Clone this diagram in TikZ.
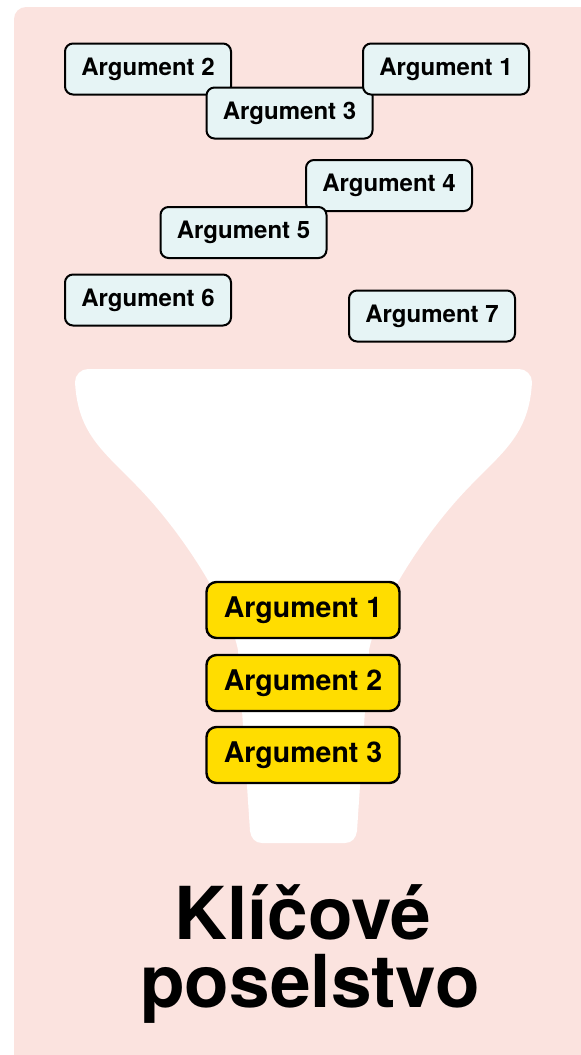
\documentclass[tikz,border=0pt]{standalone}
\usepackage{fontspec}
\setmainfont{TeX Gyre Heros}
\usetikzlibrary{positioning}
\definecolor{bgpink}{HTML}{FBE3DF}
\definecolor{argblue}{HTML}{E6F4F5}
\definecolor{keyyellow}{HTML}{FFDD00}
\begin{document}
\begin{tikzpicture}[x=1pt,y=-1pt,
  argbox/.style={draw,fill=argblue,line width=2pt,rounded corners=8pt,
    minimum width=166pt,minimum height=51pt,inner sep=0pt,
    font=\bfseries\fontsize{24}{26}\selectfont},
  keybox/.style={draw,fill=keyyellow,line width=2.4pt,rounded corners=10pt,
    minimum width=193pt,minimum height=56pt,inner sep=0pt,
    font=\bfseries\fontsize{28.5}{32}\selectfont},
  heading/.style={inner sep=0pt,anchor=base,
    font=\bfseries\fontsize{73}{68}\selectfont}]
\useasboundingbox (0,0) rectangle (581,1055);
\fill[bgpink,rounded corners=12pt] (14,7) rectangle (600,1075);
% funnel
\fill[white] (75,382) .. controls (75,375) and (81,369) .. (88,369)
  -- (519,369) .. controls (526,369) and (532,375) .. (532,382)
  .. controls (529,440) and (497,455) .. (457,500)
  .. controls (417,545) and (377,610) .. (369,650)
  -- (357,831) .. controls (356,838) and (352,843) .. (345,843)
  -- (262,843) .. controls (255,843) and (251,838) .. (250,831)
  -- (238,650) .. controls (230,610) and (190,545) .. (150,500)
  .. controls (110,455) and (78,440) .. (75,382) -- cycle;
% loose arguments
\node[argbox] (a2) at (148,69) {Argument 2};
\node[argbox] (a3) at (289.5,113) {Argument 3};
\node[argbox] (a1) at (446,69) {Argument 1};
\node[argbox] (a4) at (389,185.5) {Argument 4};
\node[argbox] (a5) at (243.5,232.5) {Argument 5};
\node[argbox] (a6) at (148,300) {Argument 6};
\node[argbox] (a7) at (432,316) {Argument 7};
% filtered ones
\node[keybox] (k1) at (303,610) {Argument 1};
\node[keybox] (k2) at (303,683) {Argument 2};
\node[keybox] (k3) at (303,755) {Argument 3};
\node[heading] (kl) at (303,939) {Klíčové};
\node[heading] (po) at (310,1007) {poselstvo};
\end{tikzpicture}
\end{document}
